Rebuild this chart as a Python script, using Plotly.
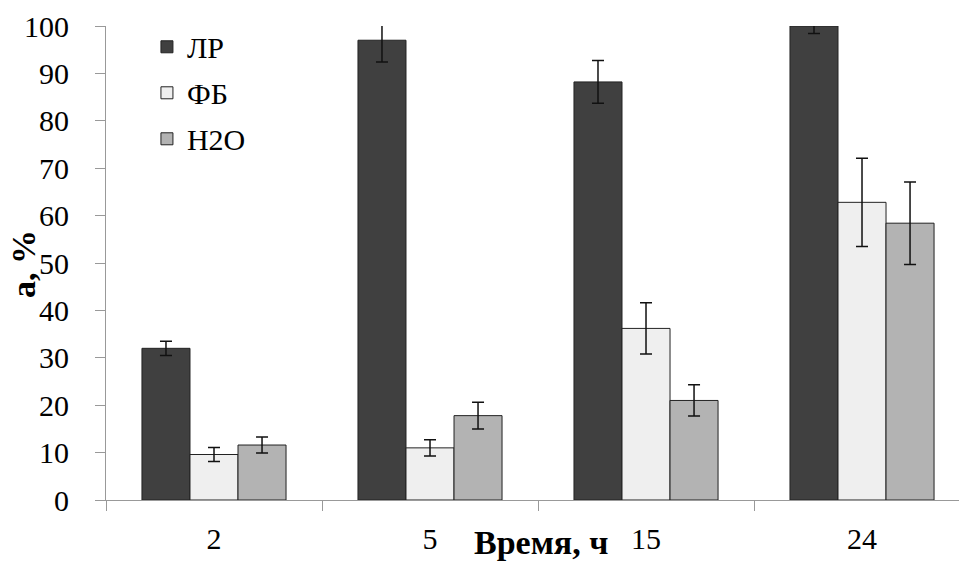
import plotly.graph_objects as go

categories = ["2", "5", "15", "24"]
series_names = ["ЛР", "ФБ", "H2O"]
lr_values = [32.0, 97.0, 88.2, 100.0]
lr_errors = [1.5, 4.6, 4.5, 1.6]
fb_values = [9.6, 11.0, 36.2, 62.8]
fb_errors = [1.5, 1.7, 5.4, 9.3]
h2o_values = [11.6, 17.8, 21.0, 58.4]
h2o_errors = [1.7, 2.8, 3.3, 8.7]
y_ticks = [0, 10, 20, 30, 40, 50, 60, 70, 80, 90, 100]

colors = ["#404040", "#efefef", "#b3b3b3"]
FONT = "Times New Roman, Liberation Serif, serif"

fig = go.Figure()
for name, vals, errs, col in zip(series_names,
                                 [lr_values, fb_values, h2o_values],
                                 [lr_errors, fb_errors, h2o_errors],
                                 colors):
    fig.add_trace(go.Bar(
        x=categories, y=vals, name=name, legendgroup=name,
        marker=dict(color=col, line=dict(color="#222222", width=1)),
        error_y=dict(type="data", array=errs, visible=True,
                     color="#111111", thickness=1.5, width=6),
        cliponaxis=True,
    ))

fig.update_layout(
    width=959, height=571,
    margin=dict(l=106, r=0, t=26, b=71, autoexpand=False),
    paper_bgcolor="white", plot_bgcolor="white",
    barmode="group", bargap=0.333, bargroupgap=0,
    font=dict(family=FONT, size=30, color="black"),
    showlegend=True,
    legend=dict(x=0.048, y=1.011, xanchor="left", yanchor="top",
                font=dict(family=FONT, size=30, color="black"),
                bgcolor="rgba(0,0,0,0)", tracegroupgap=4,
                itemwidth=30),
    annotations=[
        dict(text="<b>Время, ч</b>", xref="paper", yref="paper",
             x=0.51, y=-0.089, xanchor="center", yanchor="middle",
             showarrow=False,
             font=dict(family=FONT, size=34, color="black")),
        dict(text="<b>a, %</b>", xref="paper", yref="paper",
             x=-0.0961, y=0.498, xanchor="center", yanchor="middle",
             textangle=-90, showarrow=False,
             font=dict(family=FONT, size=34, color="black")),
    ],
)
fig.update_xaxes(
    type="category", range=[-0.5, 3.449], automargin=False,
    showline=True, linecolor="#999999", linewidth=1,
    ticks="outside", tickson="boundaries", ticklen=10, tickcolor="#999999",
    ticklabelstandoff=12,
    tickfont=dict(family=FONT, size=30, color="black"),
    showgrid=False, zeroline=False,
)
fig.update_yaxes(
    range=[0, 100], tickvals=y_ticks, automargin=False,
    showline=True, linecolor="#999999", linewidth=1,
    ticks="outside", ticklen=10, tickcolor="#999999",
    ticklabelstandoff=20,
    tickfont=dict(family=FONT, size=30, color="black"),
    showgrid=False, zeroline=False,
)

fig.write_html("out.html",
               config={"displayModeBar": False},
               post_script="document.body.style.margin='0';document.body.style.overflow='hidden';")
